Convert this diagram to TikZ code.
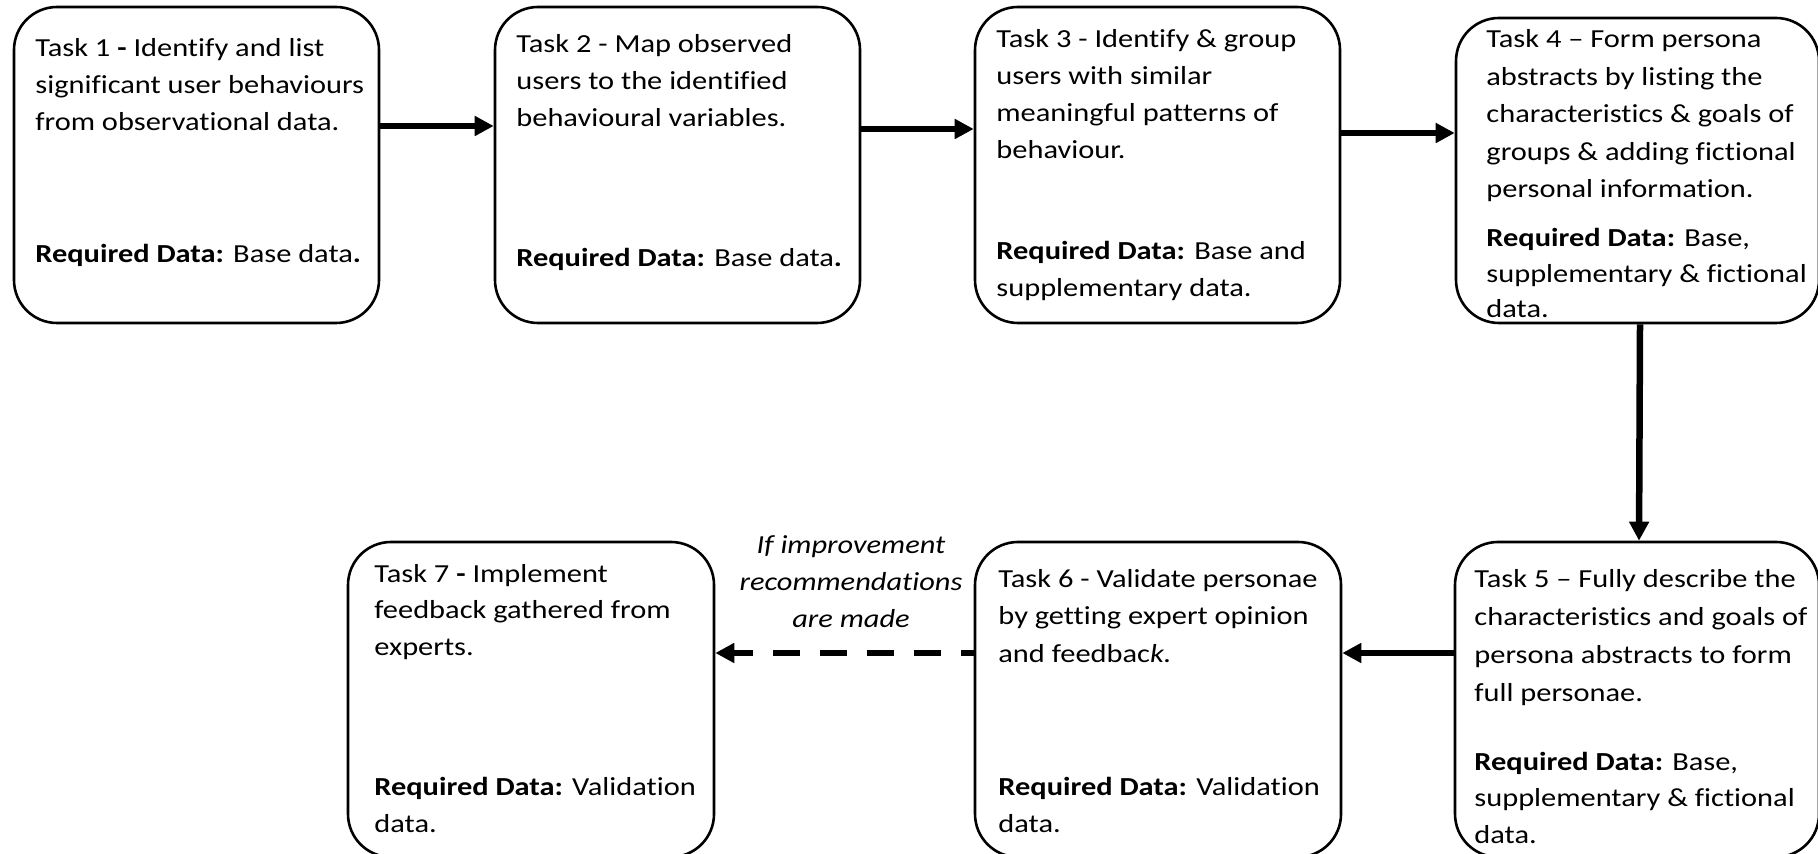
\documentclass[tikz,border=0pt]{standalone}
\usepackage{fontspec}
\setmainfont{Carlito}[FakeStretch=1.17, Ligatures={TeX,NoCommon}]
\usetikzlibrary{arrows.meta}

% text block whose base anchor is the baseline of its first line
\newcommand\blocktext[2][18.5pt]{\parbox[t]{220pt}{\raggedright\fontsize{13pt}{#1}\selectfont #2}}
\newcommand\centretext[2][18.5pt]{\parbox[t]{140pt}{\centering\fontsize{13pt}{#1}\selectfont #2}}

\begin{document}
\begin{tikzpicture}[x=0.5pt,y=-0.5pt,
  task/.style={draw=black, line width=1.3pt, fill=white, rounded corners=21.5pt,
               inner sep=0pt, minimum width=182.5pt, minimum height=158pt},
  txt/.style={inner sep=0pt, anchor=base west},
  arr/.style={line width=3.25pt, -{Triangle[length=9.5pt,width=9.5pt]}},
  optarr/.style={arr, dash pattern=on 13.5pt off 10pt, dash phase=7pt}]

\useasboundingbox (0,0) rectangle (1818,854);
\clip (0,0) rectangle (1818,854);

% task boxes
\node[task] (box1) at (196.5,165) {};
\node[task] (box2) at (677.5,165) {};
\node[task] (box3) at (1157.5,165) {};
\node[task, minimum width=181.5pt, minimum height=152.5pt] (box4) at (1637.5,170.5) {};
\node[task, minimum width=182pt, minimum height=157.5pt] (box5) at (1637,699.5) {};
\node[task, minimum width=183pt, minimum height=157.5pt] (box6) at (1158,699.5) {};
\node[task, minimum width=183pt, minimum height=157.5pt] (box7) at (531,699.5) {};

% box texts
\node[txt] (t1) at (35,57) {\blocktext{Task 1 \textbf{-} Identify and list\\significant user behaviours\\from observational data.}};
\node[txt] (r1) at (35,263) {\blocktext{\textbf{Required Data:} Base data\textbf{.}}};

\node[txt] (t2) at (516,53) {\blocktext{Task 2 - Map observed\\users to the identified\\behavioural variables.}};
\node[txt] (r2) at (516,267) {\blocktext{\textbf{Required Data:} Base data\textbf{.}}};

\node[txt] (t3) at (996,48) {\blocktext{Task 3 - Identify \& group\\users with similar\\meaningful patterns of\\behaviour.}};
\node[txt] (r3) at (996,260) {\blocktext{\textbf{Required Data:} Base and\\supplementary data.}};

\node[txt] (t4) at (1486,48) {\blocktext[18.75pt]{Task 4 -- Form persona\\abstracts by listing the\\characteristics \& goals of\\groups \& adding fictional\\personal information.}};
\node[txt] (r4) at (1486,247) {\blocktext[17.75pt]{\textbf{Required Data:} Base,\\supplementary \& fictional\\data.}};

\node[txt] (t5) at (1474,588) {\blocktext[19pt]{Task 5 -- Fully describe the\\characteristics and goals of\\persona abstracts to form\\full personae.}};
\node[txt] (r5) at (1474,770) {\blocktext[18.25pt]{\textbf{Required Data:} Base,\\supplementary \& fictional\\data.}};

\node[txt] (t6) at (998,588) {\blocktext{Task 6 - Validate personae\\by getting expert opinion\\and feedbac\textit{k.}}};
\node[txt] (r6) at (998,795) {\blocktext{\textbf{Required Data:} Validation\\data.}};

\node[txt] (t7) at (374,582) {\blocktext[18.25pt]{Task 7 \textbf{-} Implement\\feedback gathered from\\experts.}};
\node[txt] (r7) at (374,795) {\blocktext{\textbf{Required Data:} Validation\\data.}};

% condition on the optional loop
\node[inner sep=0pt, anchor=base] (cond) at (851,553) {\centretext{\itshape If improvement\\recommendations\\are made}};

% flow
\draw[arr] (box1.east |- 0,126) -- (box2.west |- 0,126);
\draw[arr] (box2.east |- 0,129) -- (box3.west |- 0,129);
\draw[arr] (box3.east |- 0,133) -- (box4.west |- 0,133);
\draw[arr] ([xshift=1.25pt]box4.south) -- ([xshift=1pt]box5.north);
\draw[arr] (box5.west |- 0,653) -- (box6.east |- 0,653);
\draw[optarr] (box6.west |- 0,653) -- (box7.east |- 0,653);

\end{tikzpicture}
\end{document}
